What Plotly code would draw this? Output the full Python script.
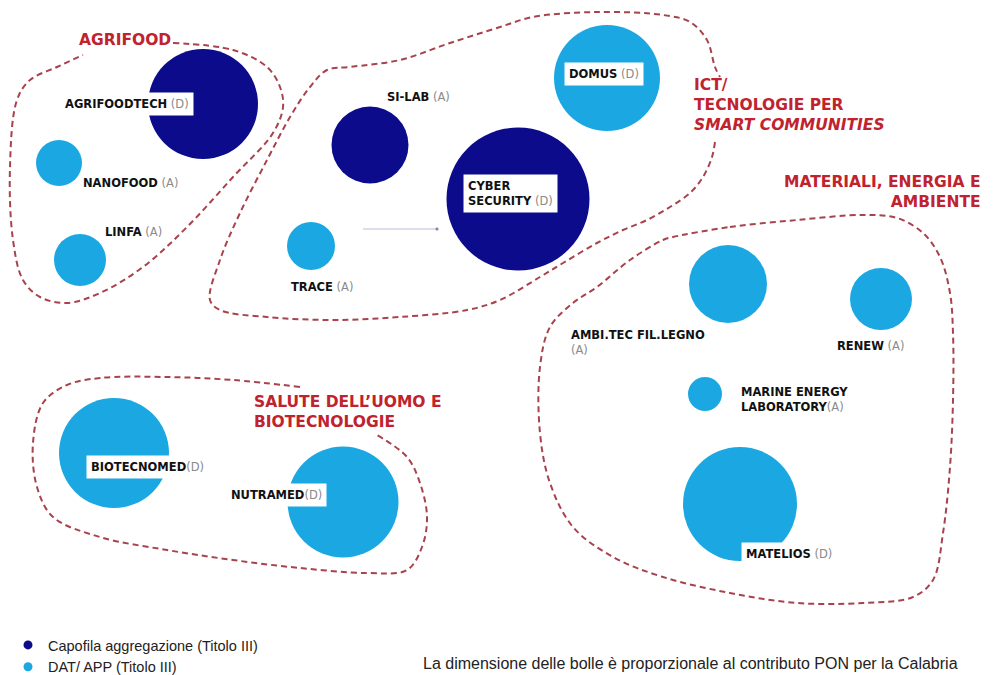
import plotly.graph_objects as go

# bubbles (centre in image pixels, diameter ~ contributo PON)
names = ["AGRIFOODTECH", "NANOFOOD", "LINFA", "SI-LAB", "TRACE", "CYBER SECURITY", "DOMUS",
         "AMBI.TEC FIL.LEGNO", "RENEW", "MARINE ENERGY LABORATORY", "MATELIOS",
         "BIOTECNOMED", "NUTRAMED"]
bubble_x = [203, 59, 80, 370, 311, 518, 607, 728, 881, 705, 740, 114, 343]
bubble_y = [104, 163, 260, 145, 246, 199, 78, 284, 299, 394, 504, 453, 502]
bubble_d = [110, 46, 52, 77, 48, 143, 106, 78, 62, 34, 114, 110, 111]
role = ["capofila", "dat", "dat", "capofila", "dat", "capofila", "dat",
        "dat", "dat", "dat", "dat", "dat", "dat"]

# bubble labels: bold part, grey suffix, position, white box or not
label_main = ["AGRIFOODTECH", "NANOFOOD", "LINFA", "SI-LAB", "TRACE", "CYBER<br>SECURITY",
              "DOMUS", "AMBI.TEC FIL.LEGNO<br>", "RENEW", "MARINE ENERGY<br>LABORATORY",
              "MATELIOS", "BIOTECNOMED", "NUTRAMED"]
label_suffix = [" (D)", " (A)", " (A)", " (A)", " (A)", " (D)", " (D)", "(A)", " (A)", "(A)",
                " (D)", "(D)", "(D)"]
label_x = [60, 78, 100, 382, 286, 463, 564, 566, 832, 736, 741, 86, 226]
label_y = [104, 183, 232, 97, 287, 193, 74, 342, 346, 399, 554, 467, 495]
label_box = [True, False, False, False, False, True, True, False, False, False, True, True, True]

# thematic areas
area_text = ["AGRIFOOD", "ICT/<br>TECNOLOGIE PER<br><i>SMART COMMUNITIES</i>",
             "MATERIALI, ENERGIA E<br>AMBIENTE", "SALUTE DELL’UOMO E<br>BIOTECNOLOGIE"]
area_x = [77, 692, 983, 252]
area_y = [40, 105, 192, 412]
area_align = ["left", "left", "right", "left"]

agrifood_x = [173, 233, 267, 280, 283, 273, 233, 187, 143, 100, 67, 40, 23, 13, 10, 17, 30, 57, 83]
agrifood_y = [43, 50, 67, 87, 107, 133, 177, 227, 267, 293, 303, 297, 280, 240, 167, 100, 80, 67, 55]
ict_x = [715, 712, 703, 690, 670, 647, 623, 597, 563, 540, 500, 467, 400, 333, 267, 220, 210,
         220, 240, 267, 290, 310, 327, 350, 400, 450, 500, 533, 597, 663, 690, 707, 715, 720]
ict_y = [142, 157, 177, 193, 207, 220, 230, 243, 263, 277, 300, 310, 317, 320, 317, 310, 300,
         260, 213, 160, 117, 87, 70, 67, 60, 43, 27, 17, 12, 15, 22, 40, 67, 77]
materiali_x = [673, 730, 797, 863, 897, 923, 940, 950, 953, 953, 950, 943, 933, 913, 863, 797,
               730, 663, 613, 573, 550, 540, 540, 550, 573, 597, 630, 663, 673]
materiali_y = [237, 227, 220, 215, 218, 233, 257, 293, 333, 400, 467, 533, 580, 597, 603, 603,
               593, 577, 557, 527, 483, 433, 367, 327, 303, 287, 260, 240, 237]
salute_x = [300, 233, 167, 100, 67, 43, 33, 37, 53, 100, 167, 233, 300, 367, 407, 422, 427, 420, 407, 377]
salute_y = [387, 380, 377, 378, 385, 403, 443, 487, 517, 537, 550, 560, 568, 573, 570, 547, 517, 483, 457, 435]

legend_names = {"capofila": "Capofila aggregazione (Titolo III)", "dat": "DAT/ APP (Titolo III)"}
colors = {"capofila": "#0b0b8c", "dat": "#1ba8e2"}
note = "La dimensione delle bolle è proporzionale al contributo PON per la Calabria"

fig = go.Figure()

# dashed area outlines
for ox, oy in [(agrifood_x, agrifood_y), (ict_x, ict_y), (materiali_x, materiali_y), (salute_x, salute_y)]:
    fig.add_trace(go.Scatter(x=ox, y=oy, mode="lines", hoverinfo="skip", showlegend=False,
                             line=dict(color="#a8424c", width=2, dash="6px,4px", shape="spline", smoothing=1)))

# stray connector next to CYBER SECURITY
fig.add_trace(go.Scatter(x=[363, 437], y=[229, 229], mode="lines+markers", hoverinfo="skip",
                         showlegend=False, line=dict(color="#b8bcd8", width=1),
                         marker=dict(size=[0, 3], color="#333355")))

for r in ["capofila", "dat"]:
    idx = [i for i, v in enumerate(role) if v == r]
    fig.add_trace(go.Scatter(
        x=[bubble_x[i] for i in idx], y=[bubble_y[i] for i in idx],
        text=[names[i] for i in idx], mode="markers", showlegend=False, hoverinfo="text",
        marker=dict(size=[bubble_d[i] for i in idx], sizemode="diameter",
                    color=colors[r], line=dict(width=0), opacity=1)))
    fig.add_trace(go.Scatter(x=[None], y=[None], mode="markers", name=legend_names[r],
                             marker=dict(size=9, color=colors[r])))

for m, s, lx, ly, box in zip(label_main, label_suffix, label_x, label_y, label_box):
    fig.add_annotation(x=lx, y=ly, xanchor="left", yanchor="middle", showarrow=False, align="left",
                       text=f"<b>{m}</b><span style='color:#8a8a8a'>{s}</span>",
                       font=dict(family="DejaVu Sans", size=11.5, color="#111111"),
                       bgcolor="white" if box else "rgba(0,0,0,0)", borderpad=4)

for t, ax, ay, al in zip(area_text, area_x, area_y, area_align):
    fig.add_annotation(x=ax, y=ay, xanchor=al, yanchor="middle", showarrow=False, align=al,
                       text=f"<b>{t}</b>", font=dict(family="DejaVu Sans", size=15.5, color="#c0222e"))

fig.add_annotation(x=690, y=663, xanchor="center", yanchor="middle", showarrow=False, text=note,
                   font=dict(family="Liberation Sans", size=16, color="#222222"))

# the page body has an 8px margin, so the axes start at 8 to keep image pixel coordinates
fig.update_layout(
    width=994, height=675, margin=dict(l=0, r=0, t=0, b=0),
    plot_bgcolor="white", paper_bgcolor="white",
    xaxis=dict(range=[8, 1002], visible=False),
    yaxis=dict(range=[683, 8], visible=False),
    legend=dict(x=0, y=0, xanchor="left", yanchor="bottom", itemwidth=30,
                font=dict(family="Liberation Sans", size=14.5, color="#222222"),
                bgcolor="rgba(0,0,0,0)", tracegroupgap=0),
)

fig.write_html("out.html")
